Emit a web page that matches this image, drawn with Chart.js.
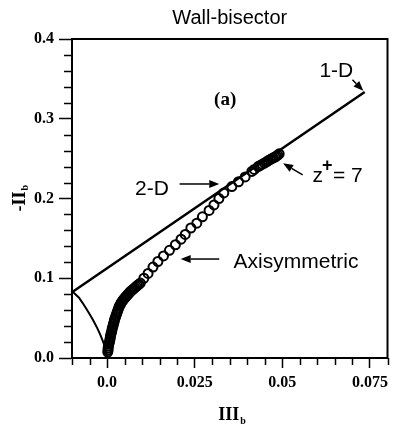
<!DOCTYPE html>
<html>
<head>
<meta charset="utf-8">
<script src="https://cdn.jsdelivr.net/npm/chart.js@4.4.1/dist/chart.umd.min.js"></script>
<style>
  html, body { margin: 0; padding: 0; background: #fff; }
  #wrap { width: 394px; height: 433px; }
</style>
</head>
<body>
<div id="wrap"><canvas id="invariant-map"></canvas></div>
<script>
'use strict';

// Axis ticks
var xTickValues = [0, 0.025, 0.05, 0.075];
var xTickLabels = ['0.0', '0.025', '0.05', '0.075'];
var yTickValues = [0, 0.1, 0.2, 0.3, 0.4];
var yTickLabels = ['0.0', '0.1', '0.2', '0.3', '0.4'];

// Boundary of the invariant map: axisymmetric branch (III < 0) and the 2-D line
var axiIII = [-0.0098, -0.008, -0.007, -0.006, -0.005, -0.004, -0.003, -0.002, -0.001, -0.0005, -0.0002, 0];
var axiII = [0.083, 0.0756, 0.0692, 0.0624, 0.0553, 0.0476, 0.0393, 0.030, 0.0189, 0.0119, 0.0065, 0];
var twoDIII = [-0.0098, 0.0735];
var twoDII = [0.083, 0.3335];

// Wall-bisector anisotropy invariants (dense near the wall, spreading out towards the bisector)
var bisectorIII = [
  0.0002, 0.0003, 0.0003, 0.0004, 0.0005, 0.0007, 0.0008, 0.0009, 0.0010, 0.0011,
  0.0013, 0.0014, 0.0015, 0.0017, 0.0018, 0.0020, 0.0021, 0.0023, 0.0025, 0.0027,
  0.0029, 0.0031, 0.0033, 0.0035, 0.0038, 0.0040, 0.0043, 0.0046, 0.0049, 0.0052,
  0.0055, 0.0058, 0.0061, 0.0064, 0.0067, 0.0071, 0.0075, 0.0079, 0.0083, 0.0087,
  0.0091, 0.0095, 0.0105, 0.0117, 0.0131, 0.0145, 0.0161, 0.0178, 0.0195, 0.0211,
  0.0223, 0.0239, 0.0256, 0.0272, 0.0291, 0.0305, 0.0319, 0.0333, 0.0356, 0.0375,
  0.0394, 0.0413, 0.0420, 0.0431, 0.0437, 0.0443, 0.0449, 0.0455, 0.0460, 0.0466,
  0.0470, 0.0474, 0.0479, 0.0483, 0.0487, 0.0491
];
var bisectorII = [
  0.0075, 0.010, 0.0125, 0.015, 0.0175, 0.020, 0.0225, 0.025, 0.0275, 0.030,
  0.0325, 0.035, 0.0375, 0.040, 0.0425, 0.045, 0.0475, 0.050, 0.0525, 0.055,
  0.0575, 0.060, 0.0625, 0.065, 0.067, 0.069, 0.071, 0.073, 0.0745, 0.076,
  0.0775, 0.079, 0.0805, 0.082, 0.0835, 0.085, 0.0865, 0.088, 0.0895, 0.091,
  0.0925, 0.094, 0.100, 0.106, 0.114, 0.121, 0.128, 0.135, 0.142, 0.149,
  0.155, 0.163, 0.169, 0.177, 0.185, 0.192, 0.200, 0.207, 0.215, 0.221,
  0.227, 0.234, 0.2365, 0.240, 0.2415, 0.243, 0.2445, 0.246, 0.2475, 0.249,
  0.250, 0.251, 0.252, 0.253, 0.2545, 0.256
];

function toPoints(xs, ys) {
  return xs.map(function (v, i) { return { x: v, y: ys[i] }; });
}

var SANS = '"Liberation Sans", Arial, sans-serif';
var SERIF = '"Liberation Serif", "Times New Roman", serif';

// Title, frame, minor ticks, axis titles and labels with arrows
var decorations = {
  id: 'decorations',
  afterDraw: function (chart) {
    var ctx = chart.ctx;
    var a = chart.chartArea;
    var xs = chart.scales.x;
    var ys = chart.scales.y;
    var cx = (a.left + a.right) / 2;
    ctx.save();
    ctx.strokeStyle = '#000';
    ctx.fillStyle = '#000';

    ctx.font = '20px ' + SANS;
    ctx.textAlign = 'center';
    ctx.textBaseline = 'middle';
    ctx.fillText('Wall-bisector', cx, 18);

    ctx.lineWidth = 2;
    ctx.strokeRect(a.left, a.top, a.right - a.left, a.bottom - a.top);

    // minor ticks
    ctx.lineWidth = 1.5;
    ctx.beginPath();
    for (var i = -2; i <= 16; i++) {
      if (i % 5 === 0) continue;
      var px = Math.round(xs.getPixelForValue(i * 0.005)) + 0.5;
      ctx.moveTo(px, a.bottom);
      ctx.lineTo(px, a.bottom + 7);
    }
    for (var j = 0; j <= 20; j++) {
      if (j % 5 === 0) continue;
      var py = Math.round(ys.getPixelForValue(j * 0.02)) + 0.5;
      ctx.moveTo(a.left - 8, py);
      ctx.lineTo(a.left, py);
    }
    ctx.stroke();

    // axis titles
    ctx.textBaseline = 'alphabetic';
    ctx.textAlign = 'left';
    ctx.font = 'bold 18px ' + SERIF;
    var w = ctx.measureText('III').width;
    ctx.fillText('III', cx - w / 2 - 1, 420);
    ctx.font = 'bold 10px ' + SERIF;
    ctx.fillText('b', cx + w / 2, 424);

    ctx.save();
    ctx.translate(25, (a.top + a.bottom) / 2 + 13);
    ctx.rotate(-Math.PI / 2);
    ctx.font = 'bold 18px ' + SERIF;
    ctx.fillText('-II', 0, 0);
    var w2 = ctx.measureText('-II').width;
    ctx.font = 'bold 10px ' + SERIF;
    ctx.fillText('b', w2 + 1, 3);
    ctx.restore();

    function X(v) { return xs.getPixelForValue(v); }
    function Y(v) { return ys.getPixelForValue(v); }

    function arrow(x0, y0, x1, y1) {
      var p0 = [X(x0), Y(y0)], p1 = [X(x1), Y(y1)];
      var ang = Math.atan2(p1[1] - p0[1], p1[0] - p0[0]);
      var len = 10, half = 4;
      var bx = p1[0] - len * Math.cos(ang), by = p1[1] - len * Math.sin(ang);
      ctx.lineWidth = 1.5;
      ctx.beginPath();
      ctx.moveTo(p0[0], p0[1]);
      ctx.lineTo(bx, by);
      ctx.stroke();
      ctx.beginPath();
      ctx.moveTo(p1[0], p1[1]);
      ctx.lineTo(bx + half * Math.sin(ang), by - half * Math.cos(ang));
      ctx.lineTo(bx - half * Math.sin(ang), by + half * Math.cos(ang));
      ctx.closePath();
      ctx.fill();
    }

    ctx.textBaseline = 'middle';
    ctx.textAlign = 'center';
    ctx.font = 'bold 19px ' + SERIF;
    ctx.fillText('(a)', X(0.0337), Y(0.3235));

    ctx.font = '21px ' + SANS;
    ctx.fillText('1-D', X(0.0654), Y(0.360));
    arrow(0.0700, 0.3490, 0.0731, 0.3350);

    ctx.fillText('2-D', X(0.0128), Y(0.2119));
    arrow(0.0207, 0.2182, 0.0320, 0.2182);

    ctx.fillText('Axisymmetric', X(0.0539), Y(0.1204));
    arrow(0.0320, 0.1241, 0.0210, 0.1241);

    ctx.textAlign = 'left';
    ctx.textBaseline = 'alphabetic';
    var zx = X(0.0586), zy = Y(0.2207);
    ctx.fillText('z', zx, zy);
    var zw = ctx.measureText('z').width;
    ctx.font = 'bold 18px ' + SANS;
    ctx.fillText('+', zx + zw - 1, zy - 11);
    ctx.font = '21px ' + SANS;
    ctx.fillText('= 7', zx + zw + 10, zy);
    arrow(0.0558, 0.2295, 0.0502, 0.2441);

    ctx.restore();
  }
};

var ctx = document.getElementById('invariant-map');
new Chart(ctx, {
  type: 'scatter',
  data: {
    datasets: [
      {
        label: 'Axisymmetric',
        data: toPoints(axiIII, axiII),
        showLine: true,
        borderColor: '#000',
        borderWidth: 2,
        pointRadius: 0,
        tension: 0
      },
      {
        label: '2-D',
        data: toPoints(twoDIII, twoDII),
        showLine: true,
        borderColor: '#000',
        borderWidth: 2.5,
        pointRadius: 0
      },
      {
        label: 'Wall-bisector',
        data: toPoints(bisectorIII, bisectorII),
        showLine: false,
        pointStyle: 'circle',
        pointRadius: 4.5,
        pointBorderWidth: 2,
        pointBorderColor: '#000',
        pointBackgroundColor: 'rgba(0,0,0,0)'
      }
    ]
  },
  options: {
    responsive: true,
    maintainAspectRatio: false,
    animation: false,
    events: [],
    layout: { padding: { left: 0, right: 3, top: 39, bottom: 0 } },
    plugins: {
      legend: { display: false },
      tooltip: { enabled: false },
      title: { display: false }
    },
    scales: {
      x: {
        type: 'linear',
        min: -0.01,
        max: 0.08,
        afterBuildTicks: function (scale) {
          scale.ticks = xTickValues.map(function (v) { return { value: v }; });
        },
        afterFit: function (scale) { scale.height = 75; },
        ticks: {
          color: '#000',
          font: { family: SERIF, size: 16, weight: 'bold' },
          padding: 5,
          maxRotation: 0,
          callback: function (value) {
            var k = xTickValues.indexOf(value);
            return k >= 0 ? xTickLabels[k] : '';
          }
        },
        grid: {
          drawOnChartArea: false,
          drawTicks: true,
          tickLength: 10,
          tickWidth: 1.5,
          tickColor: '#000'
        },
        border: { display: true, color: '#000', width: 2 }
      },
      y: {
        type: 'linear',
        min: 0,
        max: 0.4,
        afterBuildTicks: function (scale) {
          scale.ticks = yTickValues.map(function (v) { return { value: v }; });
        },
        afterFit: function (scale) { scale.width = 72; },
        ticks: {
          color: '#000',
          font: { family: SERIF, size: 16, weight: 'bold' },
          padding: 5,
          callback: function (value) {
            var k = yTickValues.indexOf(value);
            return k >= 0 ? yTickLabels[k] : '';
          }
        },
        grid: {
          drawOnChartArea: false,
          drawTicks: true,
          tickLength: 13,
          tickWidth: 1.5,
          tickColor: '#000'
        },
        border: { display: true, color: '#000', width: 2 }
      }
    }
  },
  plugins: [decorations]
});
</script>
</body>
</html>
